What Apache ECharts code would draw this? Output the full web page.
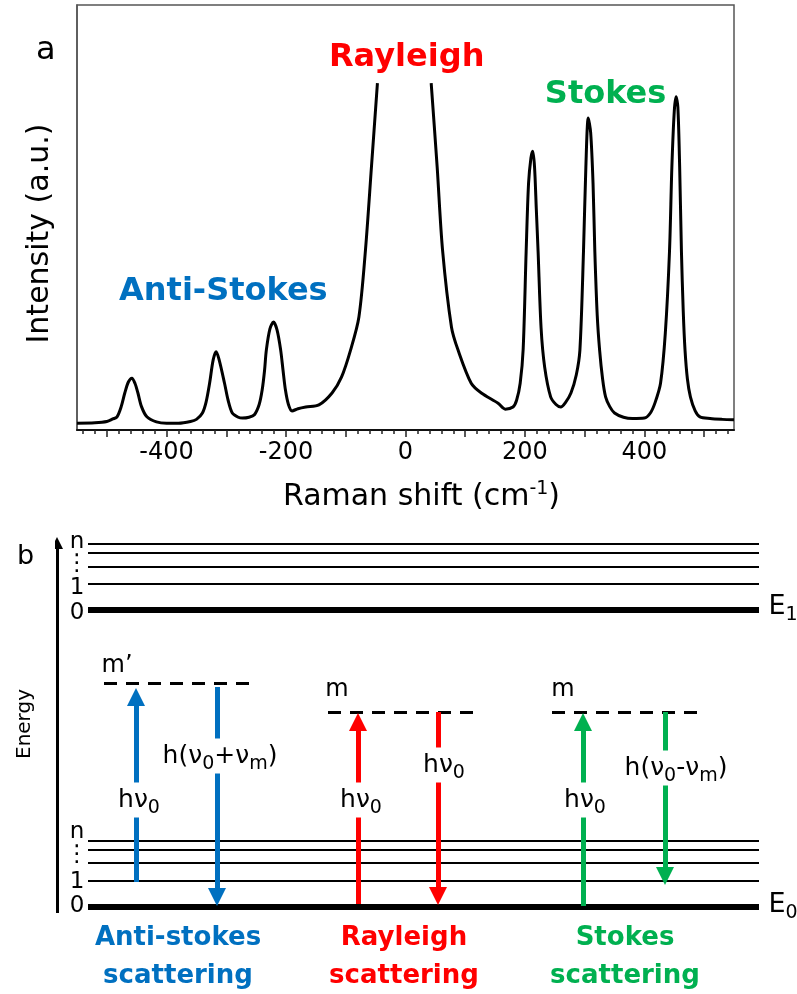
<!DOCTYPE html>
<html>
<head>
<meta charset="utf-8">
<script src="https://cdn.jsdelivr.net/npm/echarts@6/dist/echarts.min.js"></script>
<style>html,body{margin:0;padding:0;background:#fff}#c{width:797px;height:994px}</style>
</head>
<body>
<div id="c"></div>
<script>
// ---------------- Panel a: Raman spectrum ----------------
const ramanShift = [
  -550,-520,-500,-490,-483,-476,-470,-464,-458,-453,-448,-442,-433,-417,-400,-380,-360,-350,
  -340,-334,-328,-322,-317,-312,-303,-297,-290,-280,-273,-262,-253,-245,-240,-236,-233,-227,
  -221,-215,-209,-205,-201,-196,-190,-180,-167,-145,-123,-107,-92,-78,-67,-57,-47,
  0,
  43,53,62,77,88,110,127,155,167,180,186,192,197,202,206,210,213,216,219,222,227,233,243,252,
  260,268,277,286,292,298,302,306,310,314,317,321,325,330,335,342,350,365,380,400,410,418,
  427,435,442,446,450,453,456,459,462,465,468,472,477,485,493,510,530,550
];
const intensity = [
  1.6,1.7,2.0,2.6,3.1,5.5,8.7,11.3,12.2,11.0,8.7,5.5,3.1,1.9,1.6,1.6,2.0,2.5,
  4.0,6.5,11.0,16.5,18.4,16.5,11.0,7.0,4.0,3.0,2.8,3.0,3.6,6.0,9.4,14.0,18.8,23.8,
  25.4,23.5,18.8,14.0,9.4,6.0,4.5,5.0,5.4,5.9,8.7,12.5,18.8,26.6,42.4,61.9,81.6,
  null,
  81.6,61.9,42.4,24.2,18.8,11.0,8.7,6.3,4.9,5.4,7.0,11.0,19.0,42.0,58.0,64.0,65.6,62.0,52.0,42.0,24.0,14.8,7.8,6.0,
  5.4,6.5,8.7,13.0,18.8,42.0,62.0,73.4,70.0,58.0,42.0,27.0,18.8,12.0,7.8,5.5,4.0,3.0,2.7,2.8,4.0,6.5,
  11.0,22.8,42.0,62.0,75.0,78.4,76.0,62.0,42.0,28.0,18.8,12.0,7.8,4.5,3.1,2.7,2.5,2.4
];
const xTickLabels = [-400, -200, 0, 200, 400];
const xMajorTicks = [-500, -400, -300, -200, -100, 0, 100, 200, 300, 400, 500];
const peakNames = ['Rayleigh', 'Stokes', 'Anti-Stokes'];
const peakNameAt = [[2, 87.5], [335, 79], [-305, 32.5]];

// ---------------- Panel b: energy diagram ----------------
const groundLevels = [0, 26, 44, 57, 66];          // E0 manifold (0, 1, ..., n)
const excitedLevels = [297, 323, 340, 354, 363];   // E1 manifold (0, 1, ..., n)
const levelWidths = [6, 2.2, 2.2, 2.2, 2.2];
const levelSpan = [31, 702];
const levelTags = ['0', '1', '⋮', 'n'];
const groundTagY = [1, 25, 52, 75];
const excitedTagY = [294, 319, 343, 365];
const virtualLevelY = [224, 195, 195];
const virtualLevelSpan = [[47, 193], [271, 416], [495, 640]];
const virtualNames = ['m’', 'm', 'm'];
const virtualNameAt = [[60, 241], [280, 217], [506, 217]];
// transitions: x, from, to(tip)
const arrowX = [79, 160, 301, 381, 526, 608];
const arrowFrom = [25, 220, 3, 195, 1, 195];
const arrowTo = [219, 1, 194, 2, 194, 22];
const arrowColor = ['#0070C0', '#0070C0', '#FF0000', '#FF0000', '#00B050', '#00B050'];
const arrowText = ['{b|hν}{s|0}', '{b|h(ν}{s|0}{b|+ν}{s|m}{b|)}', '{b|hν}{s|0}', '{b|hν}{s|0}', '{b|hν}{s|0}', '{b|h(ν}{s|0}{b|-ν}{s|m}{b|)}'];
const arrowTextAt = [[82, 107], [163, 151], [304, 107], [387, 142], [528, 107], [619, 139]];
const captions = ['Anti-stokes\nscattering', 'Rayleigh\nscattering', 'Stokes\nscattering'];
const captionAt = [[121, -50], [347, -50], [568, -50]];
const captionColor = ['#0070C0', '#FF0000', '#00B050'];

const FONT = "'DejaVu Sans', 'Noto Sans', sans-serif";
const peakColors = ['#FF0000', '#00B050', '#0070C0'];

const spectrum = ramanShift.map((x, i) => [x, intensity[i]]);
const minorTicks = [];
for (let v = -540; v <= 540; v += 20) if (v % 100 !== 0) minorTicks.push(v);

const subRich = {
  b: {fontSize: 25, fontFamily: FONT, color: '#000'},
  s: {fontSize: 19, fontFamily: FONT, color: '#000', padding: [16, 0, 0, 0]}
};

function labelSeries(points, texts, opts) {
  return Object.assign({
    type: 'scatter', xAxisIndex: 2, yAxisIndex: 1, symbolSize: 0, silent: true, clip: false, z: 10,
    itemStyle: {color: 'transparent', opacity: 1},
    data: points.map((p, i) => ({value: p, name: texts[i]}))
  }, opts);
}

const levelLines = [];
[groundLevels, excitedLevels].forEach(set => set.forEach((y, i) => {
  levelLines.push({coords: [[levelSpan[0], y], [levelSpan[1], y]], lineStyle: {width: levelWidths[i]}});
}));

const HEAD = 18;
const arrows = arrowX.map((x, i) => {
  const dir = arrowTo[i] > arrowFrom[i] ? 1 : -1;
  return {coords: [[x, arrowFrom[i]], [x, arrowTo[i] - dir * HEAD / 2]], lineStyle: {color: arrowColor[i]}};
});

const chart = echarts.init(document.getElementById('c'), null, {renderer: 'canvas'});
chart.setOption({
  animation: false,
  backgroundColor: '#fff',
  title: [
    {text: 'a', left: 31, top: 30, textStyle: {fontSize: 32, fontWeight: 'normal', fontFamily: FONT, color: '#000'}},
    {text: 'b', left: 12, top: 538, textStyle: {fontSize: 27, fontWeight: 'normal', fontFamily: FONT, color: '#000'}}
  ],
  grid: [
    {left: 77, top: 5, width: 657, height: 425, show: true, borderColor: '#555', borderWidth: 1.5},
    {left: 57, top: 527, width: 700, height: 467, show: false}
  ],
  xAxis: [
    {
      type: 'value', gridIndex: 0, min: -550, max: 550, interval: 50,
      name: '{b|Raman shift (cm}{p|-1}{b|)}', nameLocation: 'middle', nameGap: 50,
      nameTextStyle: {
        padding: [0, 0, 0, 32],
        rich: {
          b: {fontSize: 30, fontFamily: FONT, color: '#000'},
          p: {fontSize: 19, fontFamily: FONT, color: '#000', padding: [0, 0, 16, 0]}
        }
      },
      axisLine: {show: true, onZero: false, lineStyle: {color: '#111', width: 2}},
      axisTick: {show: true, customValues: xMajorTicks, length: 7, lineStyle: {color: '#222', width: 1.5}},
      axisLabel: {show: true, customValues: xTickLabels, fontSize: 24, fontFamily: FONT, color: '#000', margin: 11},
      splitLine: {show: false}
    },
    {
      type: 'value', gridIndex: 0, min: -550, max: 550, interval: 50, position: 'bottom',
      axisLine: {show: false, onZero: false},
      axisTick: {show: true, customValues: minorTicks, length: 4, lineStyle: {color: '#222', width: 1.5}},
      axisLabel: {show: false}, splitLine: {show: false}
    },
    {type: 'value', gridIndex: 1, min: 0, max: 700, show: false}
  ],
  yAxis: [
    {
      type: 'value', gridIndex: 0, min: 0, max: 100,
      name: 'Intensity (a.u.)', nameLocation: 'middle', nameGap: 22, nameRotate: 90,
      nameTextStyle: {fontSize: 30, fontFamily: FONT, color: '#000', padding: [0, 32, 0, 0]},
      axisLine: {show: true, onZero: false, lineStyle: {color: '#555', width: 1.5}},
      axisTick: {show: false}, axisLabel: {show: false}, splitLine: {show: false}
    },
    {type: 'value', gridIndex: 1, min: -87, max: 380, show: false}
  ],
  series: [
    {
      type: 'line', xAxisIndex: 0, yAxisIndex: 0, data: spectrum, showSymbol: false, symbol: 'none',
      smooth: 0.3, connectNulls: false, clip: true,
      lineStyle: {color: '#000', width: 3}
    },
    {
      type: 'scatter', xAxisIndex: 0, yAxisIndex: 0, symbolSize: 0, silent: true, clip: false,
      itemStyle: {color: 'transparent', opacity: 1},
      data: peakNameAt.map((p, i) => ({value: p, name: peakNames[i],
        label: {color: peakColors[i]}})),
      label: {show: true, position: 'inside', formatter: '{b}', fontSize: 32, fontWeight: 'bold', fontFamily: FONT}
    },
    // energy axis
    {
      type: 'lines', coordinateSystem: 'cartesian2d', xAxisIndex: 2, yAxisIndex: 1, silent: true,
      symbol: ['none', 'triangle'], symbolSize: 12,
      lineStyle: {color: '#000', width: 3, opacity: 1},
      data: [{coords: [[0, -6], [0, 364]]}]
    },
    // vibrational levels
    {
      type: 'lines', coordinateSystem: 'cartesian2d', xAxisIndex: 2, yAxisIndex: 1, silent: true,
      symbol: 'none', lineStyle: {color: '#000', width: 2.2, opacity: 1},
      data: levelLines
    },
    // virtual levels
    {
      type: 'lines', coordinateSystem: 'cartesian2d', xAxisIndex: 2, yAxisIndex: 1, silent: true,
      symbol: 'none', lineStyle: {color: '#000', width: 3, type: [13, 9], opacity: 1},
      data: virtualLevelY.map((y, i) => ({coords: [[virtualLevelSpan[i][0], y], [virtualLevelSpan[i][1], y]]}))
    },
    // transitions
    {
      type: 'lines', coordinateSystem: 'cartesian2d', xAxisIndex: 2, yAxisIndex: 1, silent: true, z: 5,
      symbol: ['none', 'triangle'], symbolSize: HEAD,
      lineStyle: {width: 5, opacity: 1},
      data: arrows
    },
    labelSeries(groundTagY.map(y => [20, y]).concat(excitedTagY.map(y => [20, y])), levelTags.concat(levelTags), {
      label: {show: true, position: 'inside', formatter: '{b}', fontSize: 23, fontFamily: FONT, color: '#000'}
    }),
    labelSeries([[726, 300], [726, 2]], ['{b|E}{s|1}', '{b|E}{s|0}'], {
      label: {show: true, position: 'inside', formatter: '{b}',
        rich: {b: {fontSize: 27, fontFamily: FONT, color: '#000'}, s: {fontSize: 19, fontFamily: FONT, color: '#000', padding: [16, 0, 0, 0]}}}
    }),
    labelSeries(virtualNameAt, virtualNames, {
      label: {show: true, position: 'inside', formatter: '{b}', fontSize: 24, fontFamily: FONT, color: '#000'}
    }),
    labelSeries(arrowTextAt, arrowText, {
      z: 20,
      label: {show: true, position: 'inside', formatter: '{b}', backgroundColor: '#fff', padding: [0, 3], rich: subRich}
    }),
    labelSeries(captionAt, captions, {
      data: captionAt.map((p, i) => ({value: p, name: captions[i], label: {color: captionColor[i]}})),
      label: {show: true, position: 'inside', formatter: '{b}', fontSize: 26, fontWeight: 'bold', fontFamily: FONT, lineHeight: 38, align: 'center'}
    }),
    labelSeries([[-32, 183]], ['Energy'], {
      label: {show: true, position: 'inside', formatter: '{b}', fontSize: 20, fontFamily: FONT, color: '#000', rotate: 90}
    })
  ]
});
</script>
</body>
</html>
